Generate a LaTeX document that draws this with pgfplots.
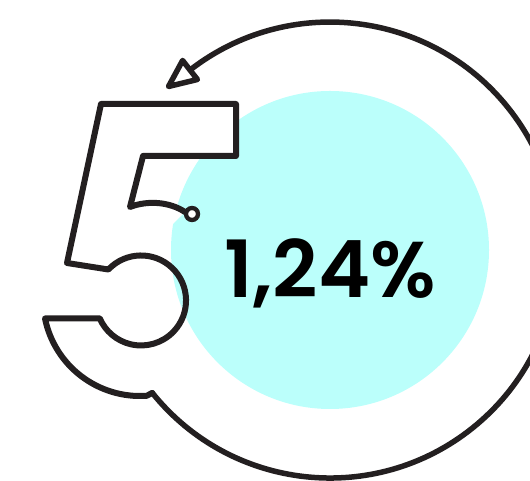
\documentclass[border=0pt]{standalone}
\usepackage{pgfplots}
\pgfplotsset{compat=1.18}
\usepackage{fontspec}
\newfontfamily\numfont{Poppins SemiBold}
\definecolor{ink}{HTML}{231F20}
\definecolor{cyanfill}{HTML}{BBFFFB}
\begin{document}
\begin{tikzpicture}
\begin{axis}[
    x=1bp, y=1bp,
    xmin=0, xmax=530,
    ymin=0, ymax=481,
    hide axis,
    clip=true,
    clip bounding box=upper bound,
]
% keep the whole frame as the picture
\path (0,0) rectangle (530,481);

% light cyan disc behind the value
\fill[cyanfill] (330,231) circle[radius=159bp];

% white body of the "5"
\fill[white] (101,377) -- (236,377) -- (236,325) -- (143,325) -- (130,274)
    .. controls (148,281) and (170,279) .. (185,269)
    -- (141,225) -- (108.4,211.5) -- (67,218) -- cycle;

% the value
\node[anchor=base, inner sep=0pt, text=black] at (330,183)
    {\numfont\fontsize{79bp}{83bp}\selectfont 1,24\%};

% outline of the "5"
\draw[ink, line width=6bp, line join=round, line cap=round]
    (185,269) .. controls (170,279) and (148,281) .. (130,274)
    -- (143,325) -- (236,325) -- (236,377) -- (101,377) -- (67,218)
    -- (108.4,211.5)
    arc[start angle=136.5, end angle=-156.7, radius=45bp]
    -- (45,162.5)
    arc[start angle=191.6, end angle=274, radius=97bp]
    -- (152.3,88.1);
\draw[ink, line width=4.3bp, fill=white] (192,267) circle[radius=6bp];

% circular arrow
\draw[ink, line width=5.5bp, line cap=round]
    (152.3,88.1) arc[start angle=-141.2, end angle=127.8, radius=228bp];
\draw[ink, line width=5.5bp, line join=round, fill=white]
    (168.5,394.5) -- (197.4,401.5) -- (182.6,420.5) -- cycle;
\end{axis}
\end{tikzpicture}
\end{document}
